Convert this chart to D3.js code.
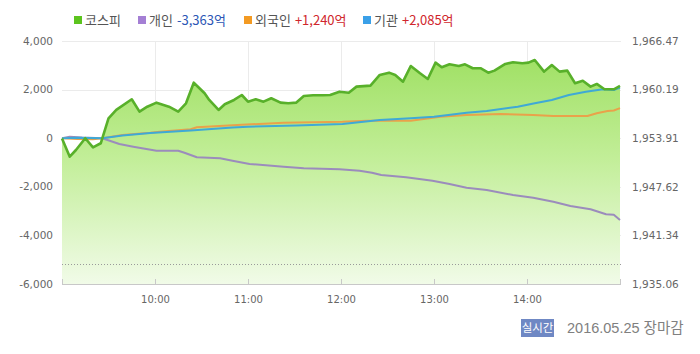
<!DOCTYPE html>
<html><head><meta charset="utf-8">
<script src="https://cdn.jsdelivr.net/npm/d3@7"></script>
<style>
html,body{margin:0;padding:0;background:#fff;}
svg{display:block;}
</style></head>
<body>
<svg id="c" width="700" height="354"></svg>
<script>
// ---- data ----
const kospiTimes = ["9:00","9:05","9:09","9:15","9:20","9:25","9:30","9:35","9:45","9:50","9:55","10:01","10:09","10:15","10:20","10:25","10:32","10:35","10:41","10:45","10:51","10:56","11:00","11:05","11:10","11:15","11:21","11:26","11:31","11:36","11:42","11:48","11:53","11:59","12:05","12:10","12:19","12:25","12:31","12:35","12:40","12:45","12:51","12:56","13:01","13:05","13:10","13:16","13:20","13:25","13:30","13:35","13:39","13:46","13:51","13:57","14:01","14:05","14:11","14:16","14:21","14:26","14:31","14:36","14:41","14:45","14:50","14:56","15:00"];
const kospiValues = [1953.87,1951.52,1952.38,1953.90,1952.73,1953.25,1956.48,1957.56,1958.94,1957.34,1957.98,1958.50,1957.98,1957.34,1958.42,1961.08,1959.71,1958.85,1957.56,1958.29,1958.85,1959.49,1958.63,1958.94,1958.63,1959.07,1958.50,1958.42,1958.50,1959.36,1959.46,1959.46,1959.49,1959.92,1959.79,1960.57,1960.70,1962.08,1962.38,1962.08,1961.21,1963.24,1962.30,1961.56,1963.67,1963.07,1963.46,1963.24,1963.46,1962.95,1962.95,1962.38,1962.64,1963.50,1963.72,1963.59,1963.67,1964.02,1962.51,1963.37,1962.51,1962.64,1961.01,1961.34,1960.57,1960.92,1960.23,1960.23,1960.66];
const kospiPrevClose = 1937.65;

const personTimes = ["9:00","9:05","9:13","9:26","9:37","9:46","10:01","10:15","10:19","10:27","10:42","10:50","11:01","11:23","11:36","11:59","12:12","12:20","12:26","12:42","12:59","13:10","13:21","13:34","13:51","14:04","14:17","14:28","14:41","14:51","14:56","15:00"];
const personValues = [0,60,30,0,-239,-350,-514,-514,-597,-786,-827,-926,-1062,-1173,-1239,-1280,-1337,-1420,-1514,-1609,-1749,-1888,-2037,-2132,-2337,-2448,-2613,-2790,-2926,-3132,-3148,-3363];

const foreignTimes = ["9:00","9:10","9:20","9:26","9:39","9:57","10:03","10:23","10:27","10:53","11:23","12:01","12:17","12:45","13:04","13:21","13:43","14:04","14:17","14:39","14:45","14:52","14:56","15:00"];
const foreignValues = [0,-30,-40,0,130,226,267,366,449,543,638,679,720,720,885,955,996,955,914,914,1025,1119,1140,1240];

const instTimes = ["9:00","9:10","9:26","9:39","9:57","10:23","10:50","11:00","11:31","12:01","12:25","12:45","13:00","13:21","13:34","13:54","14:05","14:16","14:27","14:38","14:49","14:56","15:00"];
const instValues = [0,20,0,110,214,317,440,473,523,584,749,819,885,1049,1119,1296,1436,1572,1778,1913,2012,1983,2085];

const leftTicks = [-6000,-4000,-2000,0,2000,4000];
const rightTickLabels = ["1,935.06","1,941.34","1,947.62","1,953.91","1,960.19","1,966.47"];
const hourTicks = ["10:00","11:00","12:00","13:00","14:00"];
const legendNames = ["코스피","개인","외국인","기관"];
const legendAmounts = ["","-3,363억","+1,240억","+2,085억"];
const footerBadge = "실시간";
const footerText = "2016.05.25 장마감";

// ---- drawing ----
const svg = d3.select("#c");
const parse = d3.timeParse("%H:%M");
const L = 62, R = 620, T = 41, B = 284;
const x = d3.scaleTime().domain([parse("9:00"), parse("15:00")]).range([L, R]);
const yL = d3.scaleLinear().domain([-6000, 4000]).range([B, T]);
const yR = d3.scaleLinear().domain([1935.06, 1966.47]).range([B, T]);
const rightVals = rightTickLabels.map(s => +s.replace(/,/g, ""));

const gridC = "#ebebeb";
svg.append("g").selectAll("line").data(leftTicks.filter(d => d > -6000)).join("line")
  .attr("x1", L).attr("x2", R + 1).attr("y1", d => Math.round(yL(d)) + 0.5).attr("y2", d => Math.round(yL(d)) + 0.5)
  .attr("stroke", gridC);
svg.append("g").selectAll("line").data(hourTicks).join("line")
  .attr("x1", d => Math.round(x(parse(d))) + 0.5).attr("x2", d => Math.round(x(parse(d))) + 0.5)
  .attr("y1", T).attr("y2", B).attr("stroke", gridC);

const defs = svg.append("defs");
const grad = defs.append("linearGradient").attr("id", "g1").attr("gradientUnits", "userSpaceOnUse")
  .attr("x1", 0).attr("x2", 0).attr("y1", 55).attr("y2", B);
grad.append("stop").attr("offset", 0).attr("stop-color", "#9fe063");
grad.append("stop").attr("offset", 0.45).attr("stop-color", "#c2ee98");
grad.append("stop").attr("offset", 1).attr("stop-color", "#f1fbe8");

const kData = kospiTimes.map((t, i) => ({ t: parse(t), v: kospiValues[i] }));
svg.append("path").datum(kData)
  .attr("d", d3.area().x(d => x(d.t)).y0(B).y1(d => yR(d.v)))
  .attr("fill", "url(#g1)");

svg.append("line").attr("x1", L).attr("x2", R + 1)
  .attr("y1", Math.round(yR(kospiPrevClose)) + 0.5).attr("y2", Math.round(yR(kospiPrevClose)) + 0.5)
  .attr("stroke", "#9a9a9a").attr("stroke-dasharray", "1,2");

const ax = svg.append("g").attr("transform", `translate(0,${B + 0.5})`)
  .call(d3.axisBottom(x).tickValues(hourTicks.map(parse)).tickSize(0).tickFormat(d3.timeFormat("%H:%M")));
ax.select(".domain").remove();
ax.selectAll("text").attr("dy", 0).attr("y", 18).attr("fill", "#666")
  .style("font-family", "DejaVu Sans, sans-serif").style("font-size", "10px");
svg.append("line").attr("x1", L).attr("x2", R + 1).attr("y1", B + 0.5).attr("y2", B + 0.5).attr("stroke", "#c8c8c8");
svg.append("g").selectAll("line").data([parse("9:00"), ...hourTicks.map(parse), parse("15:00")]).join("line")
  .attr("x1", d => Math.round(x(d)) + 0.5).attr("x2", d => Math.round(x(d)) + 0.5)
  .attr("y1", B - 5).attr("y2", B).attr("stroke", "#c8c8c8");

svg.append("g").selectAll("text").data(leftTicks).join("text")
  .attr("x", 53).attr("y", d => yL(d)).attr("dy", "0.35em").attr("text-anchor", "end")
  .attr("fill", "#666").style("font-family", "DejaVu Sans, sans-serif").style("font-size", "10.5px")
  .text(d => d3.format(",")(d).replace("\u2212", "-"));
svg.append("g").selectAll("text").data(rightVals).join("text")
  .attr("x", 632).attr("y", d => yR(d)).attr("dy", "0.35em").attr("text-anchor", "start")
  .attr("fill", "#666").style("font-family", "DejaVu Sans, sans-serif").style("font-size", "10.5px")
  .text((d, i) => rightTickLabels[i]);

function drawLine(times, vals, color, w) {
  const data = times.map((t, i) => ({ t: parse(t), v: vals[i] }));
  svg.append("path").datum(data)
    .attr("d", d3.line().x(d => x(d.t)).y(d => yL(d.v)))
    .attr("fill", "none").attr("stroke", color).attr("stroke-width", w).attr("stroke-linejoin", "round");
}
drawLine(personTimes, personValues, "#9b8cbc", 2);
drawLine(foreignTimes, foreignValues, "#e9a24a", 2);
drawLine(instTimes, instValues, "#3fa9d6", 2);

svg.append("path").datum(kData)
  .attr("d", d3.line().x(d => x(d.t)).y(d => yR(d.v)))
  .attr("fill", "none").attr("stroke", "#58b02a").attr("stroke-width", 2.6).attr("stroke-linejoin", "round");

const legColors = ["#5cc41e", "#a47fd4", "#f39a22", "#3aa0e8"];
const amtColors = ["#333", "#2b56b5", "#d0262c", "#d0262c"];
const legX = [74, 138, 244, 363];
const lg = svg.append("g").style("font-family", "'Noto Sans CJK KR', sans-serif").style("font-size", "13px");
legendNames.forEach((n, i) => {
  lg.append("rect").attr("x", legX[i]).attr("y", 16).attr("width", 8).attr("height", 8).attr("fill", legColors[i]);
  const t = lg.append("text").attr("x", legX[i] + 11).attr("y", 20).attr("dy", "0.35em").attr("fill", "#555");
  t.append("tspan").text(n);
  if (legendAmounts[i]) t.append("tspan").attr("dx", 4).attr("fill", amtColors[i]).text(legendAmounts[i]);
});

svg.append("rect").attr("x", 521).attr("y", 319).attr("width", 33).attr("height", 18).attr("fill", "#6f88c4");
svg.append("text").attr("x", 537.5).attr("y", 328).attr("dy", "0.35em").attr("text-anchor", "middle")
  .attr("fill", "#fff").style("font-family", "'Noto Sans CJK KR', sans-serif").style("font-size", "11.5px").text(footerBadge);
svg.append("text").attr("x", 567).attr("y", 328).attr("dy", "0.35em")
  .attr("fill", "#808080").style("font-family", "'Liberation Sans', 'Noto Sans CJK KR', sans-serif").style("font-size", "14.5px").text(footerText);
</script>
</body></html>
